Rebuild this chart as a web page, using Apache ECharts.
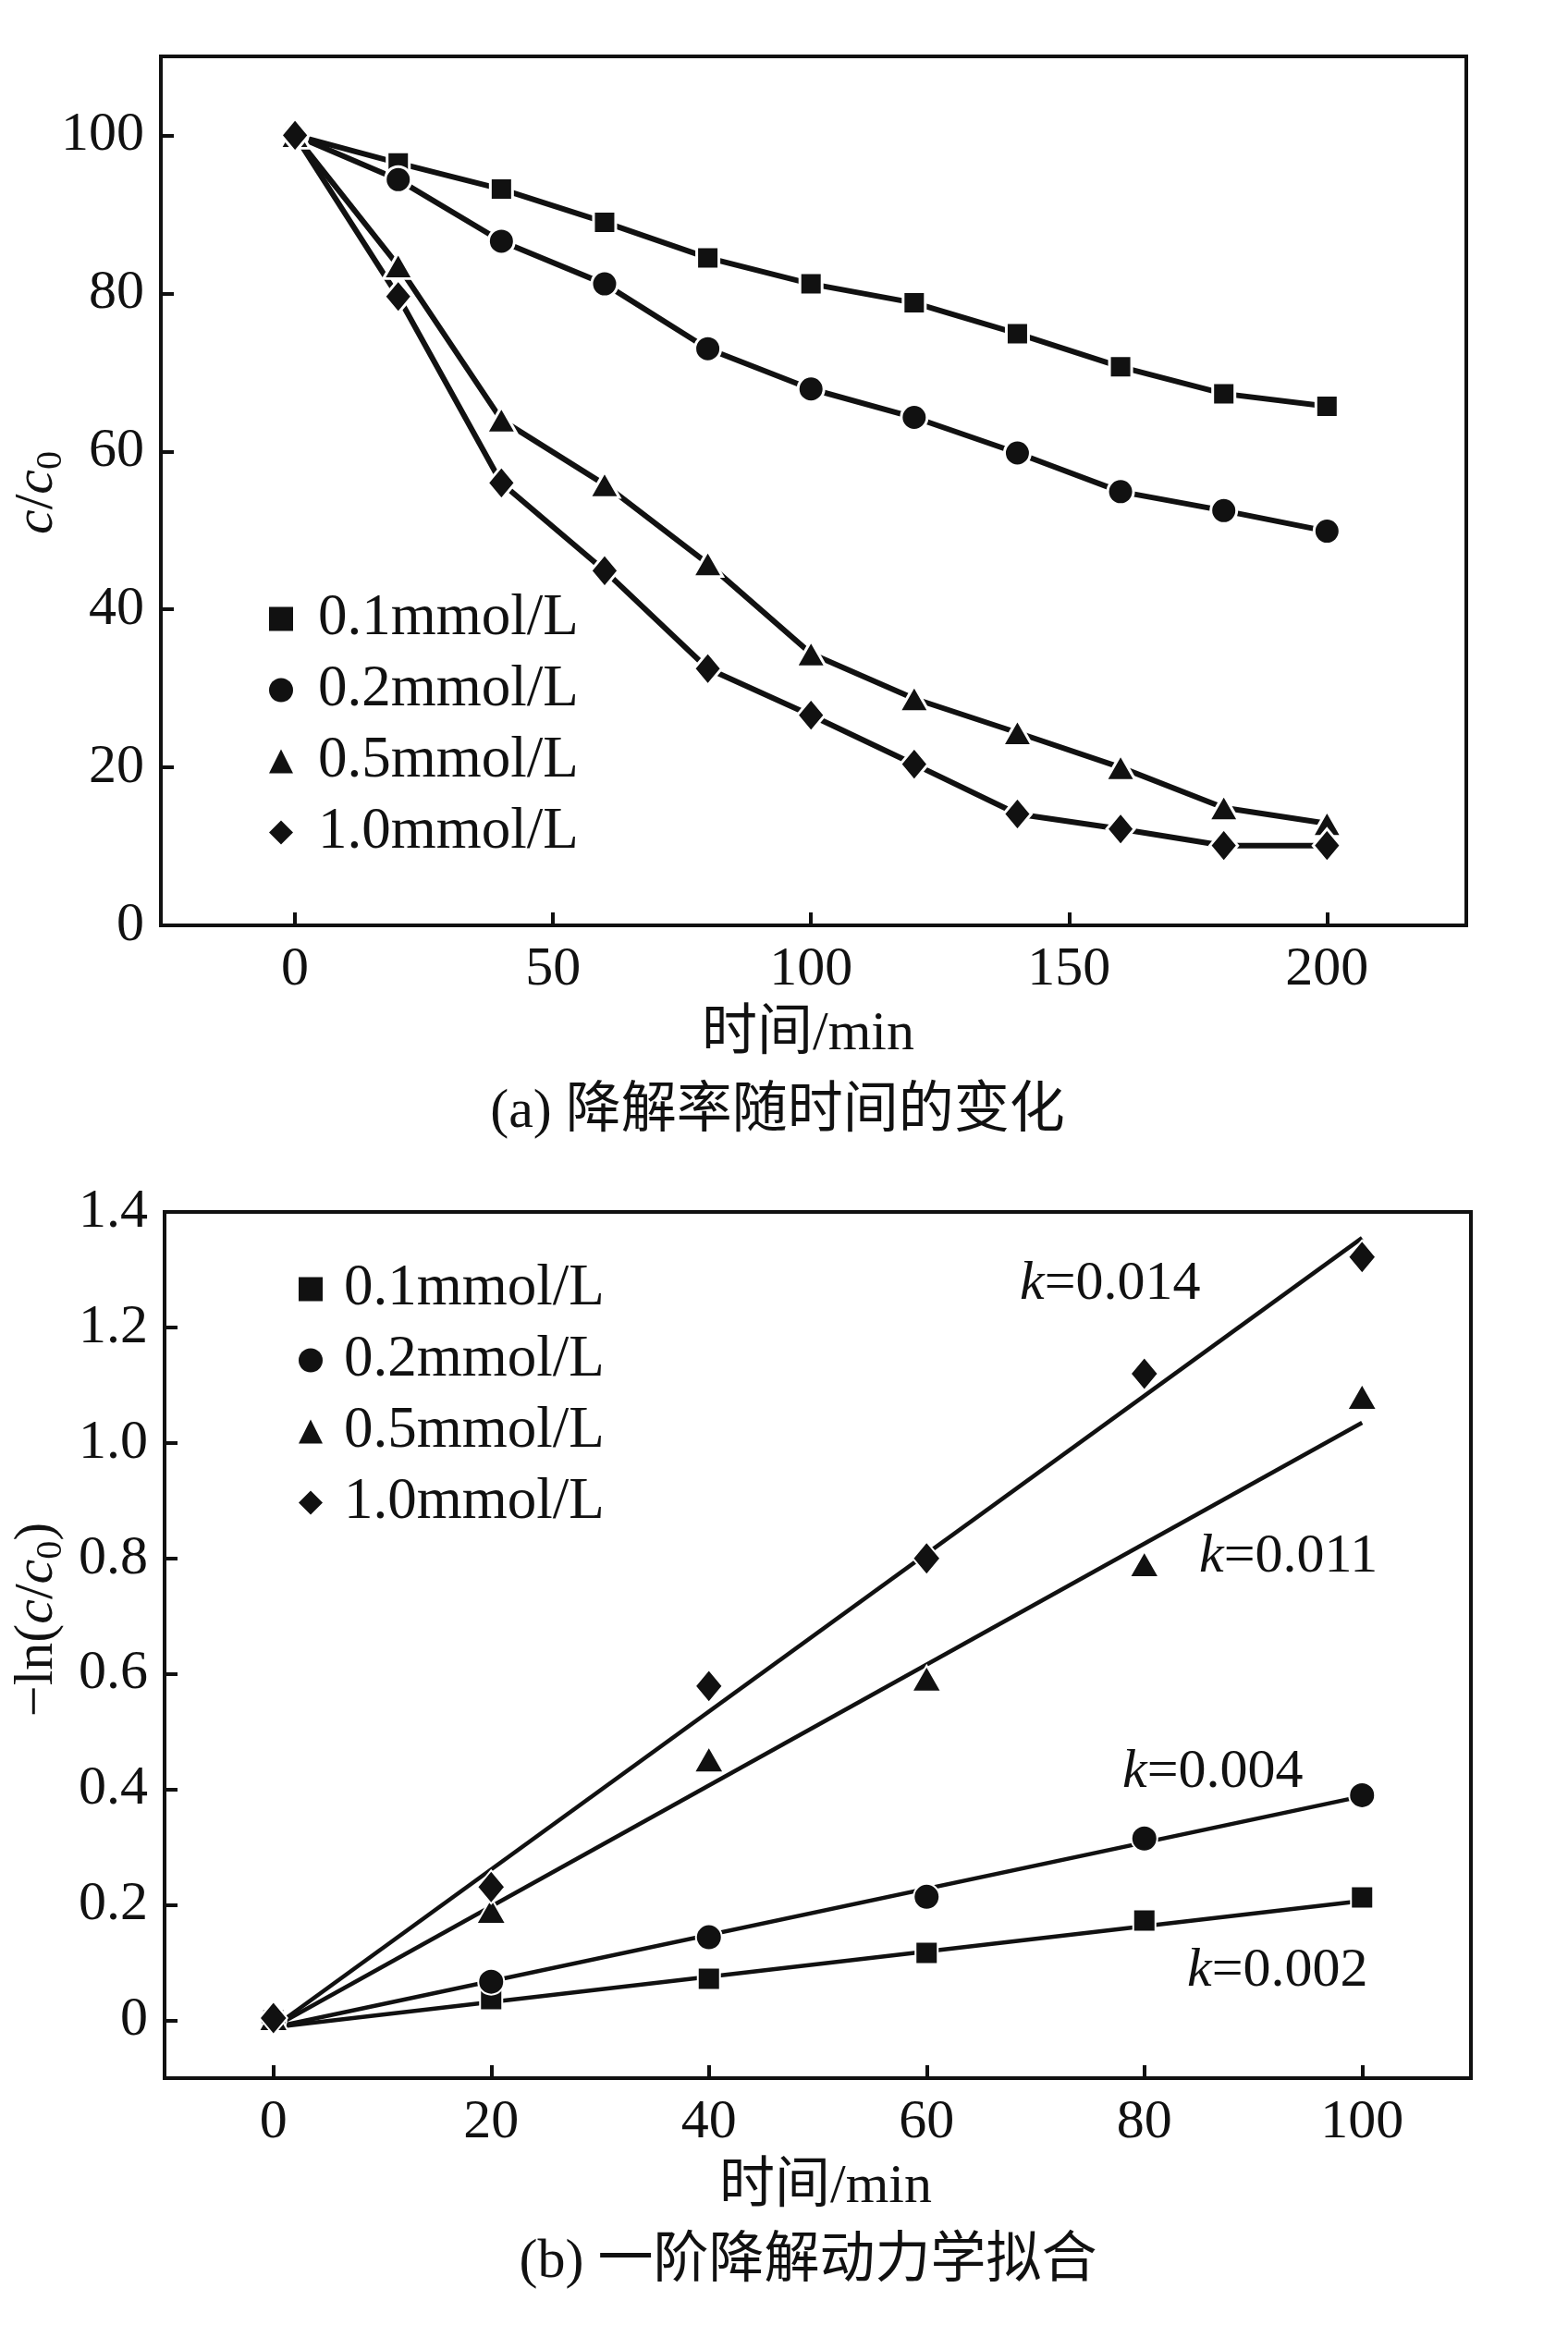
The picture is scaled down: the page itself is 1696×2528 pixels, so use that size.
<!DOCTYPE html>
<html>
<head>
<meta charset="utf-8">
<script src="https://cdn.jsdelivr.net/npm/echarts@6/dist/echarts.min.js"></script>
<style>
html,body{margin:0;padding:0;background:#fff;}
#c{width:1696px;height:2528px;}
</style>
</head>
<body>
<div id="c"></div>
<script>
// ---------- data: chart (a) ----------
const timeA = [0, 20, 40, 60, 80, 100, 120, 140, 160, 180, 200];
const a01 = [100, 96.5, 93.2, 89.0, 84.5, 81.2, 78.8, 74.9, 70.7, 67.3, 65.7];
const a02 = [100, 94.4, 86.6, 81.2, 73.0, 67.9, 64.3, 59.8, 54.9, 52.5, 49.9];
const a05 = [100, 83.5, 64.0, 55.8, 45.8, 34.4, 28.7, 24.4, 20.0, 14.9, 12.9];
const a10 = [100, 79.6, 56.0, 44.9, 32.5, 26.6, 20.4, 14.1, 12.2, 10.1, 10.1];
const xTicksA = [0, 50, 100, 150, 200];
const yTicksA = [0, 20, 40, 60, 80, 100];

// ---------- data: chart (b) ----------
const timeB = [0, 20, 40, 60, 80, 100];
const b01 = [0.0, 0.037, 0.072, 0.117, 0.173, 0.213];
const b02 = [0.0, 0.067, 0.144, 0.214, 0.315, 0.39];
const b05 = [0.004, 0.19, 0.452, 0.592, 0.79, 1.08];
const b10 = [0.004, 0.231, 0.579, 0.80, 1.12, 1.322];
const fitX = [0, 100];
const fit01 = [-0.012, 0.207];
const fit02 = [-0.012, 0.388];
const fit05 = [-0.012, 1.035];
const fit10 = [-0.012, 1.355];
const xTicksB = [0, 20, 40, 60, 80, 100];
const yTicksB = [0, 0.2, 0.4, 0.6, 0.8, 1.0, 1.2, 1.4];

const names = ['0.1mmol/L', '0.2mmol/L', '0.5mmol/L', '1.0mmol/L'];
const kTexts = ['0.014', '0.011', '0.004', '0.002'];

// ---------- styling ----------
const INK = '#111';
const FONT = "'Liberation Serif', 'Times New Roman', 'Noto Sans CJK SC', serif";
const FS = 60;
const LFS = 63;
const symbols = ['rect', 'circle', 'triangle', 'diamond'];
const symSizes = [24, 28, [32, 28], [30, 36]];

function pairs(xs, ys) { return xs.map((x, i) => [x, ys[i]]); }

function axisCommon(ticks, fmt) {
  return {
    axisLine: { show: true, onZero: false, lineStyle: { color: INK, width: 4 } },
    axisTick: { show: true, inside: true, length: 14, customValues: ticks, lineStyle: { color: INK, width: 4 } },
    axisLabel: { show: true, customValues: ticks, color: INK, fontFamily: FONT, fontSize: FS, margin: 18,
                 formatter: fmt },
    splitLine: { show: false }
  };
}

const seriesA = [a01, a02, a05, a10].map((d, i) => ({
  name: names[i], type: 'line', xAxisIndex: 0, yAxisIndex: 0,
  data: pairs(timeA, d),
  symbol: symbols[i], symbolSize: symSizes[i],
  lineStyle: { color: INK, width: 6 },
  itemStyle: { color: INK, borderColor: '#fff', borderWidth: 3, opacity: 1 },
  z: 3
}));

const seriesBfit = [fit01, fit02, fit05, fit10].map((d, i) => ({
  name: 'fit' + i, type: 'line', xAxisIndex: 1, yAxisIndex: 1,
  data: pairs(fitX, d), symbol: 'none',
  lineStyle: { color: INK, width: 4.5 }, z: 2
}));

const seriesB = [b01, b02, b05, b10].map((d, i) => ({
  name: names[i], type: 'scatter', xAxisIndex: 1, yAxisIndex: 1,
  data: pairs(timeB, d),
  symbol: symbols[i], symbolSize: symSizes[i],
  itemStyle: { color: INK, borderColor: '#fff', borderWidth: 2, opacity: 1 },
  z: 3
}));

function legend(left, top, pad) {
  return {
    orient: 'vertical', left: left, top: top,
    itemWidth: 26, itemHeight: 26, itemGap: 14,
    data: names.map((n, i) => ({ name: n, icon: symbols[i] })),
    textStyle: { color: INK, fontFamily: FONT, fontSize: LFS, padding: [0, 0, 0, pad] },
    itemStyle: { color: INK, borderWidth: 0, opacity: 1 },
    selectedMode: false
  };
}

const italicRich = {
  n: { fontFamily: FONT, fontSize: FS, fill: INK },
  i: { fontFamily: FONT, fontSize: FS, fontStyle: 'italic', fill: INK },
  s: { fontFamily: FONT, fontSize: 40, fill: INK, padding: [30, 0, 0, 0] }
};

function txt(x, y, text, align, rot) {
  return {
    type: 'text', x: x, y: y, rotation: rot || 0,
    style: { text: text, rich: italicRich, font: FS + 'px ' + FONT, fill: INK,
             align: align || 'center', verticalAlign: 'middle' }
  };
}

const option = {
  animation: false,
  backgroundColor: '#fff',
  grid: [
    { left: 174, top: 61, width: 1412, height: 940, show: true, borderColor: INK, borderWidth: 4 },
    { left: 178, top: 1311, width: 1413, height: 937, show: true, borderColor: INK, borderWidth: 4 }
  ],
  xAxis: [
    Object.assign({ type: 'value', gridIndex: 0, min: -26, max: 227 }, axisCommon(xTicksA)),
    Object.assign({ type: 'value', gridIndex: 1, min: -10, max: 110 }, axisCommon(xTicksB))
  ],
  yAxis: [
    Object.assign({ type: 'value', gridIndex: 0, min: 0, max: 110 }, axisCommon(yTicksA)),
    Object.assign({ type: 'value', gridIndex: 1, min: -0.1, max: 1.4 },
      axisCommon(yTicksB, v => (Math.abs(v) < 1e-9 ? '0' : v.toFixed(1))))
  ],
  legend: [legend(286, 633, 22), legend(318, 1358, 18)],
  series: seriesA.concat(seriesBfit, seriesB),
  graphic: [
    txt(40, 533, '{i|c}{n|/}{i|c}{s|0}', 'center', Math.PI / 2),
    txt(874, 1119, '时间/min'),
    txt(841, 1203, '(a) 降解率随时间的变化'),
    txt(40, 1752, '{n|−ln(}{i|c}{n|/}{i|c}{s|0}{n|)}', 'center', Math.PI / 2),
    txt(893, 2366, '时间/min'),
    txt(874, 2447, '(b) 一阶降解动力学拟合'),
    txt(1103, 1389, '{i|k}{n|=' + kTexts[0] + '}', 'left'),
    txt(1297, 1684, '{i|k}{n|=' + kTexts[1] + '}', 'left'),
    txt(1214, 1917, '{i|k}{n|=' + kTexts[2] + '}', 'left'),
    txt(1284, 2132, '{i|k}{n|=' + kTexts[3] + '}', 'left')
  ]
};

const chart = echarts.init(document.getElementById('c'), null, { renderer: 'canvas' });
chart.setOption(option);
</script>
</body>
</html>
